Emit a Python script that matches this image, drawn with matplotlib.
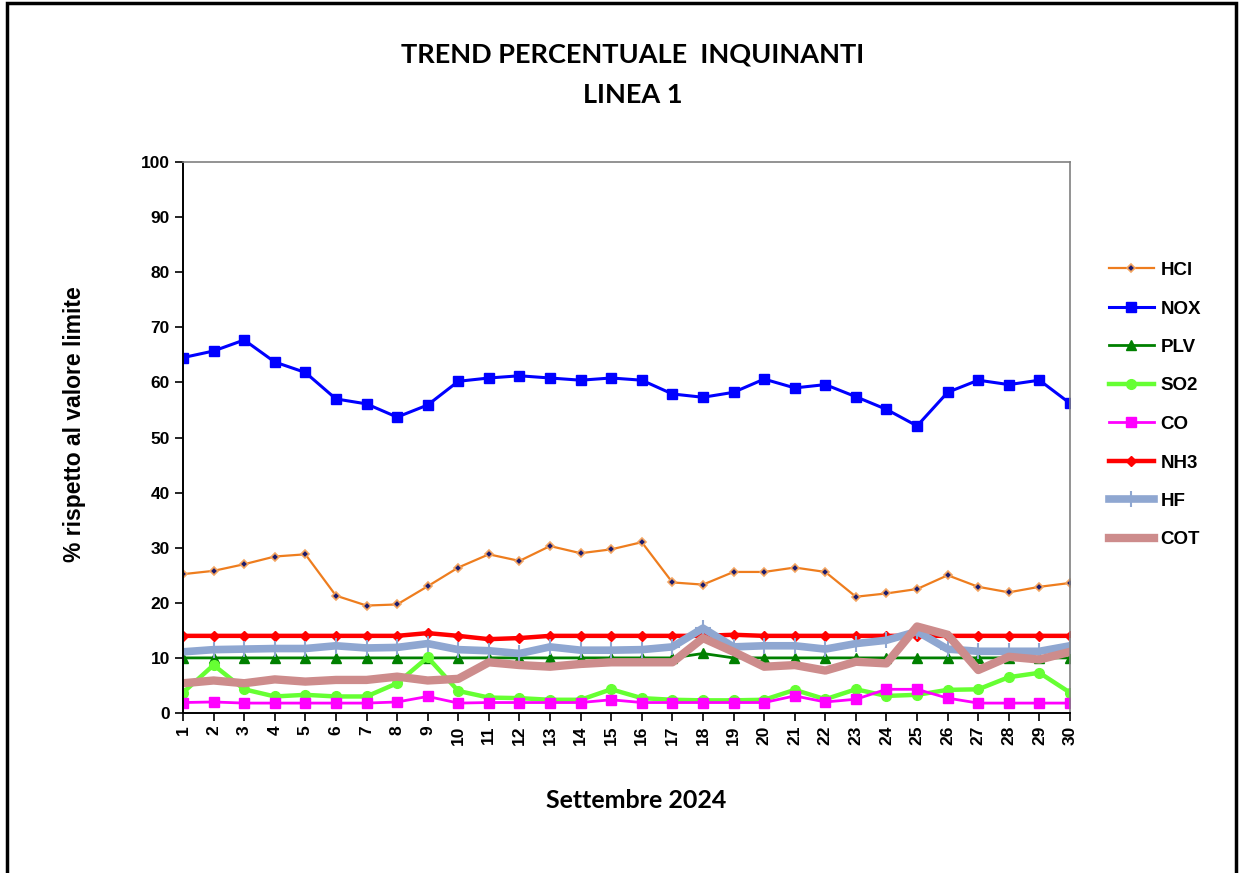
import matplotlib
matplotlib.use("Agg")
import matplotlib.pyplot as plt
from matplotlib.patches import Rectangle

days = list(range(1, 31))

hcl = [25.2, 25.8, 27.0, 28.4, 28.8, 21.3, 19.5, 19.7, 23.0, 26.4,
       28.8, 27.6, 30.3, 29.0, 29.7, 31.0, 23.7, 23.3, 25.6, 25.6,
       26.4, 25.6, 21.1, 21.7, 22.5, 25.0, 22.9, 21.9, 22.9, 23.6]
nox = [64.5, 65.7, 67.7, 63.7, 61.8, 57.0, 56.1, 53.7, 55.9, 60.2,
       60.8, 61.2, 60.8, 60.4, 60.8, 60.4, 57.9, 57.3, 58.2, 60.6,
       59.0, 59.6, 57.4, 55.1, 52.1, 58.2, 60.4, 59.6, 60.4, 56.2]
plv = [10.0, 10.0, 10.0, 10.0, 10.0, 10.0, 10.0, 10.0, 10.0, 10.0,
       10.0, 10.0, 10.0, 10.0, 10.0, 10.0, 10.0, 10.8, 10.0, 10.0,
       10.0, 10.0, 10.0, 10.0, 10.0, 10.0, 10.0, 10.0, 10.0, 10.0]
so2 = [3.7, 8.7, 4.3, 3.0, 3.3, 3.0, 3.0, 5.4, 10.1, 4.0,
       2.8, 2.7, 2.4, 2.4, 4.3, 2.7, 2.4, 2.3, 2.3, 2.4,
       4.2, 2.5, 4.3, 3.1, 3.3, 4.2, 4.3, 6.5, 7.3, 3.7]
co = [1.9, 2.0, 1.8, 1.8, 1.8, 1.8, 1.8, 2.0, 3.0, 1.8,
      1.9, 1.9, 1.9, 1.9, 2.4, 1.9, 1.9, 1.9, 1.9, 1.9,
      3.1, 2.0, 2.5, 4.3, 4.3, 2.7, 1.8, 1.8, 1.8, 1.8]
nh3 = [14.0, 14.0, 14.0, 14.0, 14.0, 14.0, 14.0, 14.0, 14.5, 14.0,
       13.4, 13.6, 14.0, 14.0, 14.0, 14.0, 14.0, 14.0, 14.2, 14.0,
       14.0, 14.0, 14.0, 14.0, 14.0, 14.0, 14.0, 14.0, 14.0, 14.0]
hf = [11.1, 11.5, 11.6, 11.7, 11.7, 12.2, 11.8, 11.9, 12.6, 11.5,
      11.3, 10.8, 12.0, 11.4, 11.4, 11.5, 12.0, 15.4, 12.0, 12.2,
      12.2, 11.6, 12.6, 13.2, 14.8, 11.6, 11.2, 11.2, 11.2, 12.2]
cot = [5.4, 5.9, 5.4, 6.1, 5.7, 6.0, 6.0, 6.6, 5.9, 6.2,
       9.2, 8.7, 8.4, 8.9, 9.2, 9.2, 9.2, 13.6, 11.1, 8.4,
       8.7, 7.7, 9.3, 9.0, 15.7, 14.2, 7.8, 10.2, 9.7, 11.1]

fig = plt.figure(figsize=(12.42, 8.73), dpi=100)
ax = fig.add_axes([183 / 1242, 1 - 713 / 873, (1070 - 183) / 1242, (713 - 162) / 873])

ax.plot(days, hcl, color="#EE7D1E", lw=1.6, marker="D", ms=4,
        mfc="#1a1a6e", mec="#F4A460", mew=1.2, label="HCl")
ax.plot(days, nox, color="#0000FF", lw=2.2, marker="s", ms=7, label="NOX")
ax.plot(days, plv, color="#008000", lw=2.0, marker="^", ms=6.5, label="PLV")
ax.plot(days, so2, color="#66FF33", lw=3.2, marker="o", ms=7, label="SO2")
ax.plot(days, co, color="#FF00FF", lw=2.0, marker="s", ms=7.5, label="CO")
ax.plot(days, nh3, color="#FF0000", lw=3.2, marker="D", ms=5, label="NH3")
ax.plot(days, hf, color="#8FA7D1", lw=5.5, marker="+", ms=12, mew=1.5,
        label="HF")
ax.plot(days, cot, color="#CD8C8C", lw=6, label="COT")

tick_font = {"family": "Liberation Sans", "weight": "bold", "size": 12.5}
ax.set_xlim(1, 30)
ax.set_ylim(0, 100)
ax.set_xticks(days)
ax.set_xticklabels([str(d) for d in days], rotation=90, fontdict=tick_font)
ax.set_yticks(range(0, 101, 10))
ax.set_yticklabels([str(v) for v in range(0, 101, 10)], fontdict=tick_font)
ax.tick_params(axis="both", direction="out", length=6, width=1.2, colors="black")
ax.tick_params(axis="x", pad=3)
for s in ["left", "bottom"]:
    ax.spines[s].set_color("black")
    ax.spines[s].set_linewidth(1.4)
for s in ["top", "right"]:
    ax.spines[s].set_color("#808080")
    ax.spines[s].set_linewidth(1.2)

fig.text(633 / 1242, 1 - 55 / 873, "TREND PERCENTUALE  INQUINANTI",
         ha="center", va="center", fontfamily="Lato", fontweight="bold",
         fontsize=19.5)
fig.text(633 / 1242, 1 - 95 / 873, "LINEA 1", ha="center", va="center",
         fontfamily="Lato", fontweight="bold", fontsize=19.5)
fig.text(636 / 1242, 1 - 800 / 873, "Settembre 2024", ha="center", va="center",
         fontfamily="Lato", fontweight="bold", fontsize=18)
fig.text(75 / 1242, 1 - 424 / 873, "% rispetto al valore limite",
         ha="center", va="center", rotation=90,
         fontfamily="Liberation Sans", fontweight="bold", fontsize=16.5)

fig.legend(loc="upper left", bbox_to_anchor=(1092 / 1242, 1 - 245 / 873),
           frameon=False, handlelength=2.4, labelspacing=1.14,
           handletextpad=0.35,
           prop={"family": "Liberation Sans", "weight": "bold", "size": 13.5})

fig.patches.append(Rectangle((7 / 1242, -0.05), (1236 - 7) / 1242, 1.05 - 3 / 873,
                             transform=fig.transFigure, fill=False,
                             edgecolor="black", lw=2.5))

fig.savefig("out.png", dpi=100, facecolor="white")
